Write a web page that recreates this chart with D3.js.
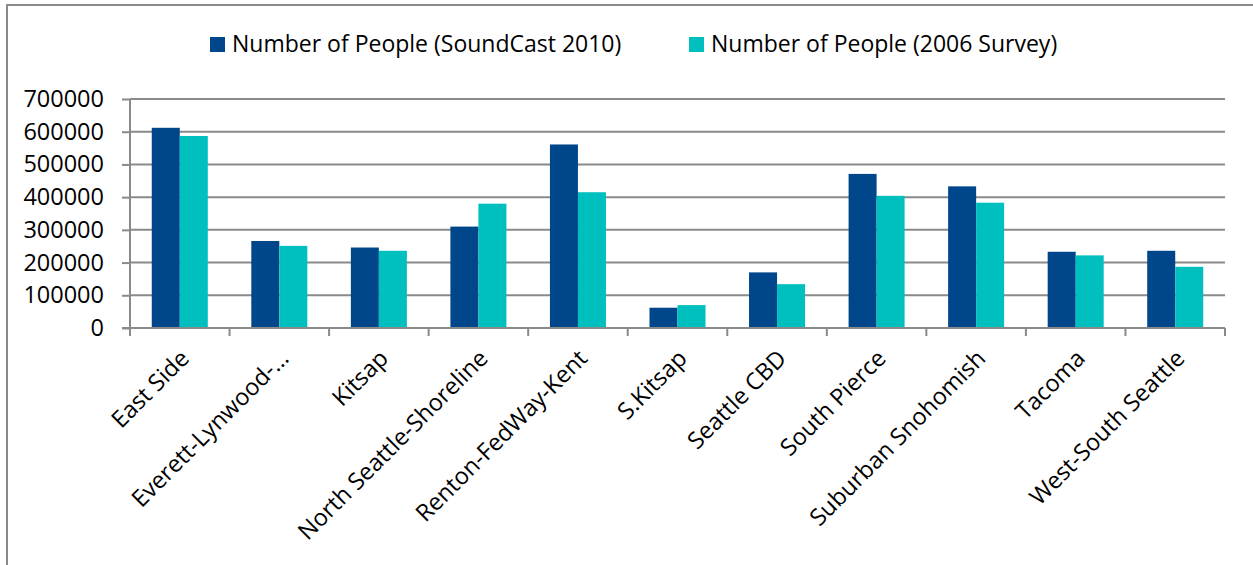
<!DOCTYPE html>
<meta charset="utf-8">
<style>
body { margin: 0; background: #fff; }
text { font-family: "Open Sans", Lato, sans-serif; fill: #000; }
.grid line { stroke: #8a8a8a; stroke-width: 2px; }
.axis path, .axis line { stroke: #8a8a8a; stroke-width: 2px; }
</style>
<svg width="1253" height="565"></svg>
<script src="https://cdnjs.cloudflare.com/ajax/libs/d3/7.8.5/d3.min.js"></script>
<script>

var categories = ["East Side", "Everett-Lynwood-\u2026", "Kitsap", "North Seattle-Shoreline",
    "Renton-FedWay-Kent", "S.Kitsap", "Seattle CBD", "South Pierce",
    "Suburban Snohomish", "Tacoma", "West-South Seattle"];
var seriesNames = ["Number of People (SoundCast 2010)", "Number of People (2006 Survey)"];
var soundcast = [612000, 266000, 246000, 310000, 561000, 62000, 170000, 471000, 433000, 233000, 236000];
var survey    = [587000, 251000, 236000, 380000, 415000, 70000, 134000, 404000, 383000, 222000, 187000];
var yTicks = [0, 100000, 200000, 300000, 400000, 500000, 600000, 700000];
var colors = ["#00468a", "#00bfbf"];

var svg = d3.select("svg");

// chart frame
svg.append("rect")
    .attr("x", 7).attr("y", 5)
    .attr("width", 1260).attr("height", 580)
    .attr("fill", "none")
    .attr("stroke", "#8a8a8a")
    .attr("stroke-width", 2);

var plotLeft = 130, plotRight = 1225, plotTop = 99, plotBottom = 328;

var x = d3.scaleBand()
    .domain(categories)
    .range([plotLeft, plotRight]);

var x1 = d3.scaleBand()
    .domain([0, 1])
    .range([0, x.bandwidth()])
    .paddingOuter(0.777);

var y = d3.scaleLinear()
    .domain([0, 700000])
    .range([plotBottom, plotTop]);

// gridlines
svg.append("g")
    .attr("class", "grid")
    .selectAll("line")
    .data(yTicks.slice(1))
    .join("line")
    .attr("x1", plotLeft).attr("x2", plotRight)
    .attr("y1", function(d) { return y(d); })
    .attr("y2", function(d) { return y(d); });

// y axis
var yAxis = svg.append("g")
    .attr("class", "axis")
    .attr("transform", "translate(" + plotLeft + ",0)")
    .call(d3.axisLeft(y).tickValues(yTicks).tickSize(8).tickPadding(18).tickFormat(d3.format("d")));
yAxis.select(".domain").attr("d", "M0," + plotTop + "V" + plotBottom);
yAxis.selectAll("text").attr("font-size", 23.5).attr("font-family", "Open Sans");

// bars
var groups = svg.append("g")
    .selectAll("g")
    .data(categories)
    .join("g")
    .attr("transform", function(d) { return "translate(" + x(d) + ",0)"; });

groups.selectAll("rect")
    .data(function(d, i) { return [soundcast[i], survey[i]]; })
    .join("rect")
    .attr("x", function(d, j) { return x1(j); })
    .attr("width", x1.bandwidth())
    .attr("y", function(d) { return y(d); })
    .attr("height", function(d) { return y(0) - y(d); })
    .attr("fill", function(d, j) { return colors[j]; });

// x axis line and boundary ticks
var xAxis = svg.append("g").attr("class", "axis");
xAxis.append("line")
    .attr("x1", plotLeft - 8).attr("x2", plotRight)
    .attr("y1", plotBottom).attr("y2", plotBottom);
xAxis.selectAll(".tick")
    .data(categories.map(function(d) { return x(d); }).concat([plotRight]))
    .join("line")
    .attr("x1", function(d) { return d; }).attr("x2", function(d) { return d; })
    .attr("y1", plotBottom).attr("y2", plotBottom + 8);

// category labels
svg.append("g")
    .selectAll("text")
    .data(categories)
    .join("text")
    .attr("transform", function(d) {
        return "translate(" + (x(d) + x.bandwidth() / 2 + 5) + "," + (plotBottom + 26) + ") rotate(-45)";
    })
    .attr("text-anchor", "end")
    .attr("dy", "0.35em")
    .attr("font-size", 23.5)
    .text(function(d) { return d; });

// legend
var legend = svg.append("g")
    .selectAll("g")
    .data(seriesNames)
    .join("g")
    .attr("transform", function(d, i) { return "translate(" + [210, 689][i] + ",37)"; });
legend.append("rect")
    .attr("width", 15).attr("height", 15)
    .attr("fill", function(d, i) { return colors[i]; });
legend.append("text")
    .attr("x", 22).attr("y", 15)
    .attr("font-size", 23)
    .text(function(d) { return d; });

</script>
